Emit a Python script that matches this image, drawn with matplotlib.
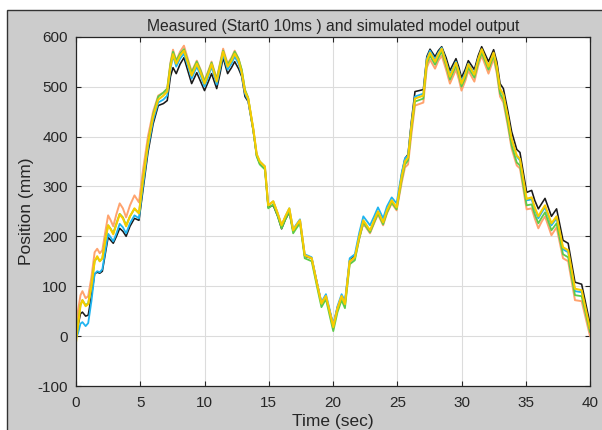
import matplotlib
matplotlib.use("Agg")
import matplotlib.pyplot as plt
from matplotlib.patches import Rectangle

# time base (sec) shared by all traces
time_s = [0.0, 0.15, 0.35, 0.5, 0.75, 0.95, 1.2, 1.45, 1.65, 1.85, 2.05, 2.3, 2.5, 2.7, 2.9,
          3.15, 3.4, 3.65, 3.9, 4.2, 4.55, 4.9, 5.2, 5.6, 6.0, 6.4, 6.8, 7.1, 7.35, 7.55,
          7.8, 8.1, 8.4, 8.7, 9.0, 9.4, 9.7, 10.0, 10.3, 10.55, 10.95, 11.2, 11.45, 11.8, 12.1,
          12.35, 12.65, 12.9, 13.15, 13.4, 13.8, 14.06, 14.3, 14.7, 14.96, 15.35, 15.7, 16.0, 16.3, 16.6,
          16.9, 17.15, 17.43, 17.8, 18.34, 18.73, 19.1, 19.45, 19.75, 20.02, 20.35, 20.67, 20.93, 21.3, 21.7,
          22.05, 22.36, 22.88, 23.2, 23.5, 23.9, 24.2, 24.57, 24.95, 25.35, 25.6, 25.84, 26.1, 26.38, 27.03,
          27.3, 27.55, 27.94, 28.2, 28.46, 28.8, 29.1, 29.57, 29.8, 30.0, 30.3, 30.53, 31.0, 31.3, 31.57,
          32.1, 32.5, 32.75, 33.0, 33.26, 33.6, 33.9, 34.3, 34.55, 35.07, 35.46, 35.7, 35.98, 36.25, 36.5,
          37.0, 37.4, 37.9, 38.3, 38.83, 39.35, 40.0]

# measured position (mm)
measured = [0, 20, 45, 48, 40, 42, 80, 125, 128, 126, 130, 168, 198, 192, 186,
            200, 216, 210, 200, 220, 236, 232, 290, 368, 425, 462, 466, 472, 520, 538,
            526, 545, 558, 532, 506, 528, 510, 492, 510, 526, 496, 525, 558, 526, 538,
            550, 536, 520, 480, 470, 410, 362, 346, 338, 258, 262, 240, 215, 234, 248,
            210, 220, 230, 160, 156, 110, 66, 78, 50, 22, 58, 78, 68, 152, 160,
            198, 226, 208, 228, 246, 226, 248, 268, 256, 325, 356, 364, 430, 490, 494,
            560, 575, 560, 572, 580, 558, 532, 556, 538, 518, 535, 552, 534, 562, 580,
            550, 574, 550, 506, 496, 452, 410, 374, 368, 288, 292, 272, 255, 266, 276,
            240, 255, 192, 186, 108, 104, 25]

# simulated model outputs (mm)
sim_blue = [-2, 5, 25, 28, 20, 26, 70, 125, 130, 128, 134, 174, 205, 198, 190,
            206, 225, 218, 206, 226, 242, 236, 298, 376, 432, 468, 474, 482, 534, 562,
            540, 556, 566, 542, 516, 540, 522, 500, 520, 540, 504, 534, 564, 534, 546,
            560, 546, 524, 486, 472, 414, 364, 350, 340, 262, 270, 246, 222, 240, 256,
            214, 224, 234, 164, 158, 110, 68, 84, 52, 22, 60, 84, 70, 156, 164,
            208, 240, 222, 240, 258, 236, 260, 278, 266, 328, 356, 362, 424, 480, 486,
            556, 572, 554, 568, 578, 550, 524, 550, 530, 510, 528, 546, 526, 556, 574,
            540, 566, 538, 494, 482, 438, 394, 360, 352, 272, 274, 254, 236, 248, 258,
            222, 236, 174, 168, 90, 88, 12]

sim_orange = [15, 50, 82, 90, 76, 80, 118, 168, 175, 166, 172, 212, 242, 232, 220,
              245, 266, 256, 238, 262, 282, 268, 330, 400, 450, 482, 488, 496, 548, 574,
              552, 570, 582, 556, 530, 552, 534, 512, 532, 550, 516, 546, 576, 546, 558,
              572, 556, 532, 492, 476, 414, 362, 348, 338, 262, 270, 246, 222, 240, 254,
              212, 222, 232, 162, 156, 108, 66, 80, 48, 20, 56, 80, 64, 148, 156,
              196, 226, 206, 226, 244, 222, 246, 266, 252, 308, 338, 344, 404, 462, 468,
              538, 554, 536, 552, 562, 534, 506, 534, 514, 492, 512, 532, 510, 542, 562,
              526, 556, 526, 480, 468, 422, 376, 342, 336, 254, 256, 236, 216, 230, 240,
              202, 218, 156, 150, 72, 70, 0]

sim_green = [-5, 25, 62, 72, 62, 66, 102, 150, 158, 150, 156, 196, 222, 215, 206,
             226, 245, 238, 222, 240, 255, 246, 312, 388, 444, 480, 488, 496, 546, 570,
             552, 566, 575, 552, 528, 550, 532, 510, 530, 548, 514, 544, 572, 544, 556,
             570, 556, 534, 494, 478, 412, 360, 344, 334, 256, 264, 240, 216, 234, 250,
             206, 216, 226, 156, 150, 102, 58, 74, 40, 10, 48, 72, 56, 144, 152,
             196, 228, 208, 228, 246, 224, 248, 268, 254, 314, 344, 352, 414, 470, 476,
             546, 562, 544, 558, 570, 542, 514, 542, 522, 500, 518, 538, 518, 548, 568,
             534, 562, 532, 486, 474, 428, 382, 348, 342, 262, 264, 244, 226, 238, 248,
             212, 226, 164, 158, 82, 80, 8]

sim_yellow = [-12, 20, 62, 72, 60, 64, 100, 150, 160, 150, 156, 195, 222, 214, 204,
              225, 244, 236, 220, 240, 256, 246, 310, 385, 440, 474, 482, 490, 540, 565,
              546, 562, 572, 548, 522, 546, 528, 506, 526, 545, 510, 540, 570, 540, 552,
              566, 552, 528, 490, 476, 415, 365, 350, 340, 262, 270, 245, 222, 240, 256,
              212, 222, 232, 162, 156, 108, 65, 80, 48, 18, 55, 80, 64, 150, 158,
              200, 232, 212, 232, 250, 228, 252, 272, 258, 320, 350, 358, 420, 476, 482,
              552, 568, 550, 565, 576, 548, 520, 548, 528, 506, 525, 545, 524, 555, 575,
              540, 568, 540, 496, 484, 440, 395, 362, 355, 275, 278, 258, 240, 252, 262,
              226, 240, 178, 172, 95, 92, 15]

x_ticks = [0, 5, 10, 15, 20, 25, 30, 35, 40]
y_ticks = [-100, 0, 100, 200, 300, 400, 500, 600]
y_tick_labels = ['-100', '0', '100', '200', '300', '400', '500', '600']

plt.rcParams['font.family'] = ['Liberation Sans', 'DejaVu Sans']

fig = plt.figure(figsize=(6.02, 4.30), dpi=100, facecolor='white')
# grey MATLAB-like figure panel with its dark border
fig.patches.append(Rectangle((7 / 602, -0.05), 1.0, (420 / 430) + 0.05, transform=fig.transFigure,
                             facecolor='#CCCCCC', edgecolor='#333333', linewidth=1.0, zorder=-10))

ax = fig.add_axes([76 / 602, 44 / 430, 514 / 602, 349.3 / 430])
ax.set_facecolor('white')

line_kw = dict(solid_joinstyle='round', solid_capstyle='round')
ax.plot(time_s, measured, color='#1A1A1A', lw=1.15, **line_kw)
ax.plot(time_s, sim_blue, color='#1FB4F0', lw=1.3, **line_kw)
ax.plot(time_s, sim_orange, color='#FFA36E', lw=1.4, **line_kw)
ax.plot(time_s, sim_green, color='#5CCB4A', lw=1.3, **line_kw)
ax.plot(time_s, sim_yellow, color='#F7CC00', lw=1.5, **line_kw)

ax.set_xlim(0, 40)
ax.set_ylim(-100, 600)
ax.set_xticks(x_ticks)
ax.set_yticks(y_ticks)
ax.set_yticklabels(y_tick_labels)
ax.grid(True, color='#DCDCDC', lw=0.8)
ax.set_axisbelow(True)

ax.tick_params(direction='in', top=True, right=True, length=3.5, width=0.8,
               labelsize=11, colors='#262626')
ax.tick_params(axis='y', pad=6)
ax.tick_params(axis='x', pad=7)
for s in ax.spines.values():
    s.set_color('#262626')
    s.set_linewidth(0.9)

ax.set_title('Measured (Start0 10ms ) and simulated model output', fontsize=11.3,
             color='#262626', pad=4)
ax.set_xlabel('Time (sec)', fontsize=12.5, color='#262626', labelpad=3)
ax.set_ylabel('Position (mm)', fontsize=12.5, color='#262626', labelpad=2)

fig.savefig('out.png', dpi=100, facecolor=fig.get_facecolor())
